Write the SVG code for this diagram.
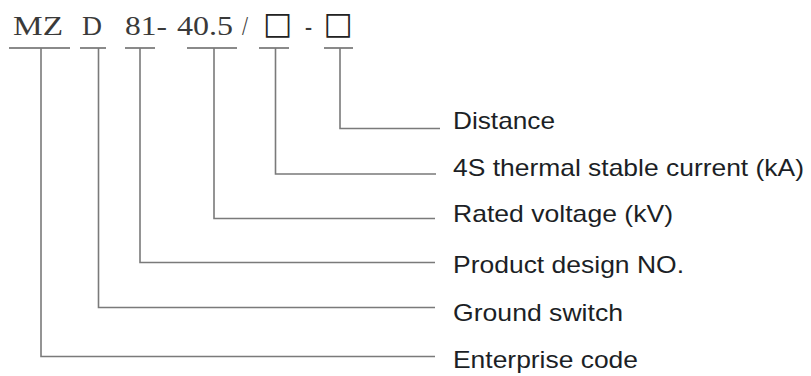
<svg xmlns="http://www.w3.org/2000/svg" width="811" height="376" viewBox="0 0 811 376">
<style>
.code{font-family:"Liberation Serif","Times New Roman",serif;font-size:28px;fill:#3a3a3a}
.box{font-family:"DejaVu Sans",sans-serif;font-size:31px;fill:#222}
.lab{font-family:"Liberation Sans",Arial,sans-serif;font-size:24px;fill:#1c1f26}
.ul{stroke:#8a8a8a;stroke-width:2;fill:none}
.con{stroke:#7a7a7a;stroke-width:1.6;fill:none}
</style>
<rect width="811" height="376" fill="#fff"/>
<g id="code">
<text class="code" x="13" y="35" textLength="50" lengthAdjust="spacingAndGlyphs">MZ</text>
<text class="code" x="82" y="35" textLength="20" lengthAdjust="spacingAndGlyphs">D</text>
<text class="code" x="125" y="35" textLength="42" lengthAdjust="spacingAndGlyphs">81-</text>
<text class="code" x="177" y="35" textLength="56" lengthAdjust="spacingAndGlyphs">40.5</text>
<text class="code" x="242" y="35" textLength="6" lengthAdjust="spacingAndGlyphs">/</text>
<text class="box" x="263" y="34" textLength="29" lengthAdjust="spacingAndGlyphs">□</text>
<text class="code" x="305" y="35" textLength="7" lengthAdjust="spacingAndGlyphs">-</text>
<text class="box" x="323.5" y="34" textLength="29" lengthAdjust="spacingAndGlyphs">□</text>
</g>
<g id="underlines">
<line class="ul" x1="9" y1="48" x2="70" y2="48"/>
<line class="ul" x1="80" y1="48" x2="106" y2="48"/>
<line class="ul" x1="125" y1="48" x2="155" y2="48"/>
<line class="ul" x1="187" y1="48" x2="237" y2="48"/>
<line class="ul" x1="259" y1="48" x2="289" y2="48"/>
<line class="ul" x1="324" y1="48" x2="353" y2="48"/>
</g>
<g id="connectors">
<path class="con" d="M340 48 V128.5 H440"/>
<path class="con" d="M275.5 48 V174 H436"/>
<path class="con" d="M214 48 V218.5 H435"/>
<path class="con" d="M140 48 V262.5 H435"/>
<path class="con" d="M98.5 48 V307.5 H435"/>
<path class="con" d="M41 48 V356.5 H435"/>
</g>
<g id="n-distance"><text class="lab" x="453" y="129" textLength="102" lengthAdjust="spacingAndGlyphs">Distance</text></g>
<g id="n-current"><text class="lab" x="453" y="176" textLength="351" lengthAdjust="spacingAndGlyphs">4S thermal stable current (kA)</text></g>
<g id="n-voltage"><text class="lab" x="453" y="222" textLength="220" lengthAdjust="spacingAndGlyphs">Rated voltage (kV)</text></g>
<g id="n-design"><text class="lab" x="453" y="273" textLength="231" lengthAdjust="spacingAndGlyphs">Product design NO.</text></g>
<g id="n-ground"><text class="lab" x="453" y="321" textLength="170" lengthAdjust="spacingAndGlyphs">Ground switch</text></g>
<g id="n-enterprise"><text class="lab" x="453" y="368" textLength="185" lengthAdjust="spacingAndGlyphs">Enterprise code</text></g>
</svg>
